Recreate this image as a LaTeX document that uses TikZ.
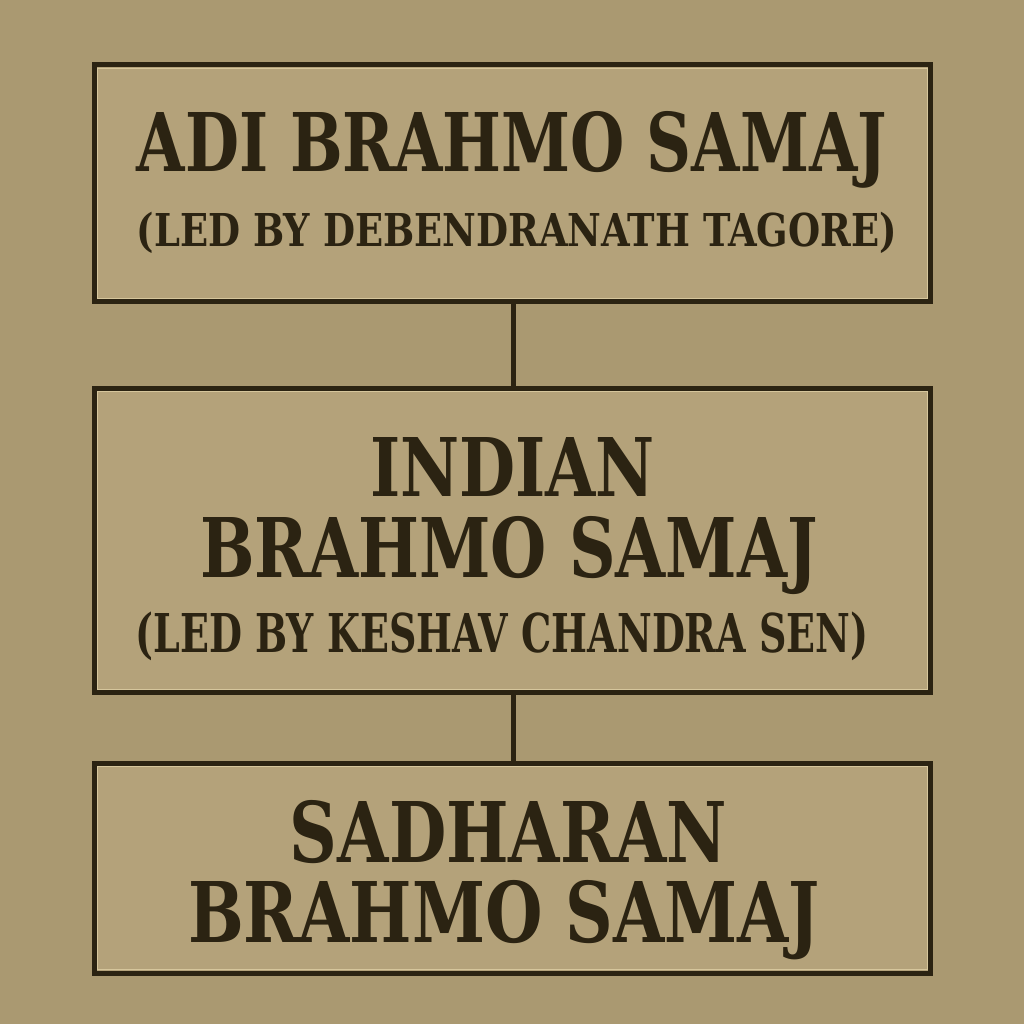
\documentclass[tikz,border=0pt]{standalone}
\usepackage{fontspec}
\usepackage{graphicx}
\newfontfamily\boxfont{DejaVu Serif Condensed Bold}
\definecolor{bgtan}{HTML}{AA9971}
\definecolor{boxtan}{HTML}{B4A27A}
\definecolor{ink}{HTML}{2B2312}
\definecolor{hilite}{HTML}{D6C69C}
\newcommand\fitline[3]{\resizebox{#1}{#2}{\raisebox{0pt}[\fontcharht\font`H][0pt]{#3}}}
\tikzset{
  panel/.style={draw=ink, line width=5pt, fill=boxtan},
  panelhi/.style={draw=hilite, line width=1pt},
  link/.style={draw=ink, line width=5pt},
  txt/.style={anchor=base, inner sep=0pt, text=ink, font=\boxfont\fontsize{40}{48}\selectfont}
}
\begin{document}
\begin{tikzpicture}[x=1pt,y=-1pt]
\useasboundingbox (0,0) rectangle (1024,1024);
\fill[bgtan] (0,0) rectangle (1024,1024);
% boxes
\draw[panel] (94,65) rectangle (930.5,301.5);
\draw[panel] (94,388) rectangle (930.5,692.5);
\draw[panel] (94,763) rectangle (930.5,973);
\draw[panelhi] (97.5,68.5) rectangle (927,298);
\draw[panelhi] (97.5,391.5) rectangle (927,689);
\draw[panelhi] (97.5,766.5) rectangle (927,969.5);
% named anchors for connectors
\coordinate (b1) at (513,301.5);
\coordinate (t2) at (513,388);
\coordinate (b2) at (513,692.5);
\coordinate (t3) at (513,763);
\draw[link] (b1) -- (t2);
\draw[link] (b2) -- (t3);
% text
\node[txt] (a1) at (512,172) {\fitline{750pt}{59pt}{ADI BRAHMO SAMAJ}};
\node[txt] (a2) at (517,247) {\fitline{760pt}{33pt}{(LED BY DEBENDRANATH TAGORE)}};
\node[txt] (i1) at (512.5,496) {\fitline{285pt}{59pt}{INDIAN}};
\node[txt] (i2) at (509,577) {\fitline{618pt}{60pt}{BRAHMO SAMAJ}};
\node[txt] (i3) at (502,652) {\fitline{733pt}{39pt}{(LED BY KESHAV CHANDRA SEN)}};
\node[txt] (s1) at (508.5,862) {\fitline{437pt}{61pt}{SADHARAN}};
\node[txt] (s2) at (504,942) {\fitline{632pt}{61pt}{BRAHMO SAMAJ}};
\end{tikzpicture}
\end{document}
